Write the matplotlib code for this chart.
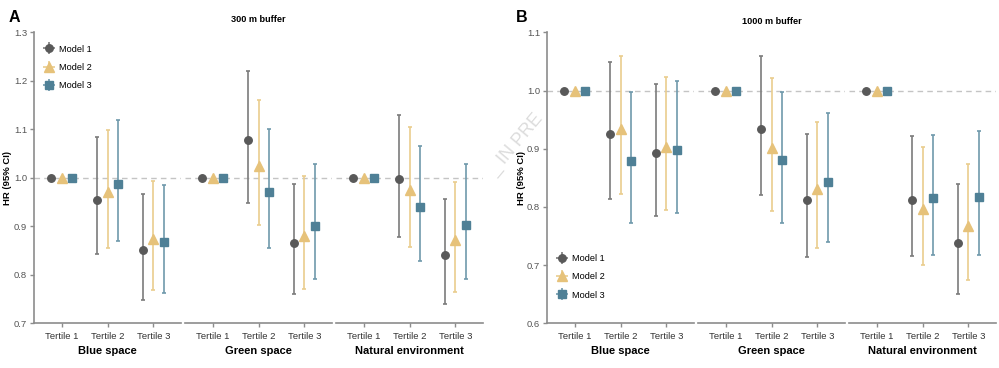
import numpy as np
import matplotlib
matplotlib.use("Agg")
import matplotlib.pyplot as plt
from matplotlib.lines import Line2D

plt.rcParams['font.family'] = ['Liberation Sans', 'DejaVu Sans']

groups = ["Blue space", "Green space", "Natural environment"]
tertiles = ["Tertile 1", "Tertile 2", "Tertile 3"]
models = ["Model 1", "Model 2", "Model 3"]

# values ordered: Blue T1-T3, Green T1-T3, Natural T1-T3
# 300 m buffer
hr_300_m1 = [1.0, 0.955, 0.851, 1.0, 1.077, 0.865, 1.0, 0.997, 0.841]
lo_300_m1 = [1.0, 0.843, 0.749, 1.0, 0.949, 0.760, 1.0, 0.878, 0.740]
hi_300_m1 = [1.0, 1.085, 0.967, 1.0, 1.221, 0.988, 1.0, 1.129, 0.957]
hr_300_m2 = [1.0, 0.971, 0.874, 1.0, 1.024, 0.880, 1.0, 0.975, 0.872]
lo_300_m2 = [1.0, 0.856, 0.768, 1.0, 0.902, 0.771, 1.0, 0.858, 0.765]
hi_300_m2 = [1.0, 1.098, 0.994, 1.0, 1.160, 1.004, 1.0, 1.105, 0.992]
hr_300_m3 = [1.0, 0.988, 0.867, 1.0, 0.970, 0.901, 1.0, 0.940, 0.902]
lo_300_m3 = [1.0, 0.870, 0.762, 1.0, 0.855, 0.791, 1.0, 0.829, 0.792]
hi_300_m3 = [1.0, 1.119, 0.986, 1.0, 1.100, 1.029, 1.0, 1.066, 1.028]

# 1000 m buffer
hr_1000_m1 = [1.0, 0.926, 0.892, 1.0, 0.933, 0.812, 1.0, 0.811, 0.738]
lo_1000_m1 = [1.0, 0.814, 0.785, 1.0, 0.821, 0.714, 1.0, 0.715, 0.650]
hi_1000_m1 = [1.0, 1.049, 1.012, 1.0, 1.059, 0.925, 1.0, 0.922, 0.839]
hr_1000_m2 = [1.0, 0.933, 0.903, 1.0, 0.902, 0.830, 1.0, 0.796, 0.767]
lo_1000_m2 = [1.0, 0.822, 0.795, 1.0, 0.793, 0.729, 1.0, 0.701, 0.674]
hi_1000_m2 = [1.0, 1.059, 1.024, 1.0, 1.022, 0.946, 1.0, 0.903, 0.874]
hr_1000_m3 = [1.0, 0.879, 0.898, 1.0, 0.880, 0.842, 1.0, 0.815, 0.817]
lo_1000_m3 = [1.0, 0.773, 0.789, 1.0, 0.773, 0.739, 1.0, 0.717, 0.718]
hi_1000_m3 = [1.0, 0.998, 1.017, 1.0, 0.998, 0.961, 1.0, 0.923, 0.931]

marker_cols = ["#595959", "#e6c27a", "#4f8096"]
line_cols = ["#7c7c7c", "#eacd8e", "#6f99ab"]
markers = ["o", "^", "s"]
msizes = [5.4, 6.6, 5.4]
offsets = [-0.22, 0.0, 0.22]

W, H = 999, 368
fig = plt.figure(figsize=(W / 100, H / 100), dpi=100)

def add_ax(x0, width=147):
    return fig.add_axes([x0 / W, (H - 323.3) / H, width / W, 291 / H])

def draw_panel(starts, data, ylim, yticks, title, tx, ty, letter, lx, ylab_x, leg_loc):
    axes = []
    for g, x0 in enumerate(starts):
        ax = add_ax(x0)
        axes.append(ax)
        ax.axhline(1.0, color="#c4c4c4", lw=1.0, dashes=(4, 3), zorder=0)
        x = np.arange(1, 4)
        for m in range(3):
            hr, lo, hi = data[m]
            hr = np.array(hr[g * 3:g * 3 + 3])
            lo = np.array(lo[g * 3:g * 3 + 3])
            hi = np.array(hi[g * 3:g * 3 + 3])
            ax.errorbar(x + offsets[m], hr, yerr=[hr - lo, hi - hr], fmt="none",
                        ecolor=line_cols[m], elinewidth=1.2, capsize=1.6,
                        capthick=1.2, zorder=2)
            ax.plot(x + offsets[m], hr, linestyle="none", marker=markers[m],
                    ms=msizes[m], color=marker_cols[m], mec=marker_cols[m], zorder=3)
        ax.set_xlim(0.4, 3.6)
        ax.set_ylim(*ylim)
        ax.set_xticks(x)
        ax.set_xticklabels(tertiles, fontsize=6.8, color="#333333")
        ax.tick_params(axis="x", length=3, width=1, color="#8c8c8c", pad=3)
        ax.set_xlabel(groups[g], fontsize=8, fontweight="bold", labelpad=4)
        for s in ["top", "right"]:
            ax.spines[s].set_visible(False)
        ax.spines["bottom"].set_color("#8c8c8c")
        ax.spines["bottom"].set_linewidth(1.2)
        ax.patch.set_alpha(0)
        if g == 0:
            ax.spines["left"].set_color("#8c8c8c")
            ax.spines["left"].set_linewidth(1.2)
            ax.set_yticks(yticks)
            ax.set_yticklabels(["%.1f" % v for v in yticks], fontsize=6.8, color="#555555")
            ax.tick_params(axis="y", length=3, width=1, color="#8c8c8c", pad=2)
        else:
            ax.spines["left"].set_visible(False)
            ax.set_yticks([])
    fig.text(tx / W, 1 - ty / H, title, fontsize=6.6, fontweight="bold",
             ha="center", va="center")
    fig.text(lx / W, 1 - 18 / H, letter, fontsize=11.5, fontweight="bold",
             ha="center", va="center")
    fig.text(ylab_x / W, 1 - 178 / H, "HR (95% CI)", fontsize=6.8, fontweight="bold",
             rotation=90, ha="center", va="center")
    handles = []
    for m in range(3):
        cross = Line2D([], [], linestyle="none", marker="+", ms=8, mew=1.2,
                       color=line_cols[m])
        pt = Line2D([], [], linestyle="none", marker=markers[m], ms=msizes[m],
                    color=marker_cols[m])
        handles.append((cross, pt))
    axes[0].legend(handles, models, loc=leg_loc[0], bbox_to_anchor=leg_loc[1],
                   frameon=False, fontsize=6.6, labelspacing=1.0,
                   handlelength=1.2, handletextpad=0.5, borderaxespad=0)
    return axes

data_300 = [(hr_300_m1, lo_300_m1, hi_300_m1),
            (hr_300_m2, lo_300_m2, hi_300_m2),
            (hr_300_m3, lo_300_m3, hi_300_m3)]
data_1000 = [(hr_1000_m1, lo_1000_m1, hi_1000_m1),
             (hr_1000_m2, lo_1000_m2, hi_1000_m2),
             (hr_1000_m3, lo_1000_m3, hi_1000_m3)]

draw_panel([34, 185, 336], data_300, (0.7, 1.3), np.arange(0.7, 1.31, 0.1),
           "300 m buffer", 258, 19, "A", 14, 8,
           ("upper left", (0.04, 0.97)))
draw_panel([547, 698, 849], data_1000, (0.6, 1.1), np.arange(0.6, 1.11, 0.1),
           "1000 m buffer", 772, 22, "B", 522, 521,
           ("upper left", (0.04, 0.25)))

# faint watermark from the source document
fig.text(516 / W, 1 - 145 / H, "_ IN PRE", fontsize=13, color="#dcdcdc",
         rotation=50, ha="center", va="center", zorder=0)

fig.savefig("out.png", dpi=100)
